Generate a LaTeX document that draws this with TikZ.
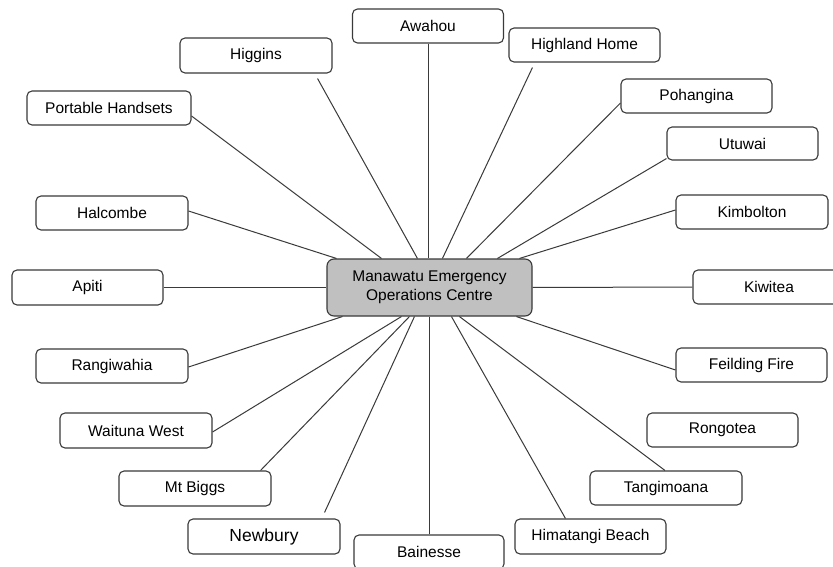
\documentclass[tikz,border=0pt]{standalone}
\usepackage{fontspec}
\setmainfont{Liberation Sans}
\definecolor{edgecol}{HTML}{3A3A3A}
\definecolor{ctrfill}{HTML}{C0C0C0}
\tikzset{
  site/.style={draw=edgecol, line width=1.1pt, rounded corners=5pt, fill=white,
    minimum width=151pt, minimum height=34pt, inner sep=0pt,
    font=\fontsize{15.5pt}{19pt}\selectfont, text=black},
  hub/.style={site, fill=ctrfill, minimum width=205pt, minimum height=57pt,
    align=center, rounded corners=7pt},
  link/.style={draw=edgecol, line width=1pt}
}
\begin{document}
\begin{tikzpicture}[x=1pt,y=-1pt]
\path[use as bounding box, clip] (0,0) rectangle (833,567);
\fill[white] (0,0) rectangle (833,567);

\node[hub] (ctr) at (429.5,287.5) {Manawatu Emergency\\Operations Centre};

\node[site] (awahou) at (428,26) {Awahou};
\node[site, minimum width=152pt, minimum height=35pt] (higgins) at (256,55.5) {Higgins};
\node[site] (highland) at (584.5,45) {Highland Home};
\node[site] (pohangina) at (696.5,96) {Pohangina};
\node[site, minimum height=33pt] (utuwai) at (742.5,143.5) {Utuwai};
\node[site, minimum width=152pt] (kimbolton) at (752,212) {Kimbolton};
\node[site, minimum width=152pt] (kiwitea) at (769,287) {Kiwitea};
\node[site] (feilding) at (751.5,365) {Feilding Fire};
\node[site] (rongotea) at (722.5,430) {Rongotea};
\node[site, minimum width=152pt] (tangimoana) at (666,488) {Tangimoana};
\node[site, minimum height=35pt] (himatangi) at (590.5,536.5) {Himatangi Beach};
\node[site, minimum width=150pt] (bainesse) at (429,552) {Bainesse};
\node[site, minimum width=152pt, minimum height=35pt, font=\fontsize{17.5pt}{20pt}\selectfont] (newbury) at (264,536.5) {Newbury};
\node[site, minimum width=152pt, minimum height=35pt] (mtbiggs) at (195,488.5) {Mt Biggs};
\node[site, minimum width=152pt, minimum height=35pt] (waituna) at (136,430.5) {Waituna West};
\node[site, minimum width=152pt] (rangiwahia) at (112,366) {Rangiwahia};
\node[site, minimum height=35pt] (apiti) at (87.5,287.5) {Apiti};
\node[site, minimum width=152pt] (halcombe) at (112,213) {Halcombe};
\node[site, minimum width=164pt] (portable) at (109,108) {Portable Handsets};

\begin{scope}[link]
\draw (awahou.south) -- (awahou.south |- ctr.north);
\draw ([shift={(-15,5)}]higgins.south east) -- ([shift={(91,0)}]ctr.north west);
\draw ([shift={(24,5)}]highland.south west) -- ([shift={(116,0)}]ctr.north west);
\draw ([shift={(0,7)}]pohangina.west) -- ([shift={(140,0)}]ctr.north west);
\draw ([shift={(0,-2)}]utuwai.south west) -- ([shift={(171,0)}]ctr.north west);
\draw ([shift={(0,-2)}]kimbolton.west) -- ([shift={(193,0)}]ctr.north west);
\draw (kiwitea.west) -- (ctr.east);
\draw ([shift={(0,5)}]feilding.west) -- ([shift={(190,0)}]ctr.south west);
\draw ([shift={(-1,0)}]tangimoana.north) -- ([shift={(133,0)}]ctr.south west);
\draw ([shift={(51,0)}]himatangi.north west) -- ([shift={(125,0)}]ctr.south west);
\draw (bainesse.north) -- (bainesse.north |- ctr.south);
\draw ([shift={(-16,-6)}]newbury.north east) -- ([shift={(88,0)}]ctr.south west);
\draw ([shift={(-11,0)}]mtbiggs.north east) -- ([shift={(83,0)}]ctr.south west);
\draw ([shift={(0,1.5)}]waituna.east) -- ([shift={(75,0)}]ctr.south west);
\draw ([shift={(0,1)}]rangiwahia.east) -- ([shift={(16,0)}]ctr.south west);
\draw (apiti.east) -- (ctr.west);
\draw ([shift={(0,-2)}]halcombe.east) -- ([shift={(10,0)}]ctr.north west);
\draw ([shift={(0,8)}]portable.east) -- ([shift={(55,0)}]ctr.north west);
\end{scope}
\end{tikzpicture}
\end{document}
